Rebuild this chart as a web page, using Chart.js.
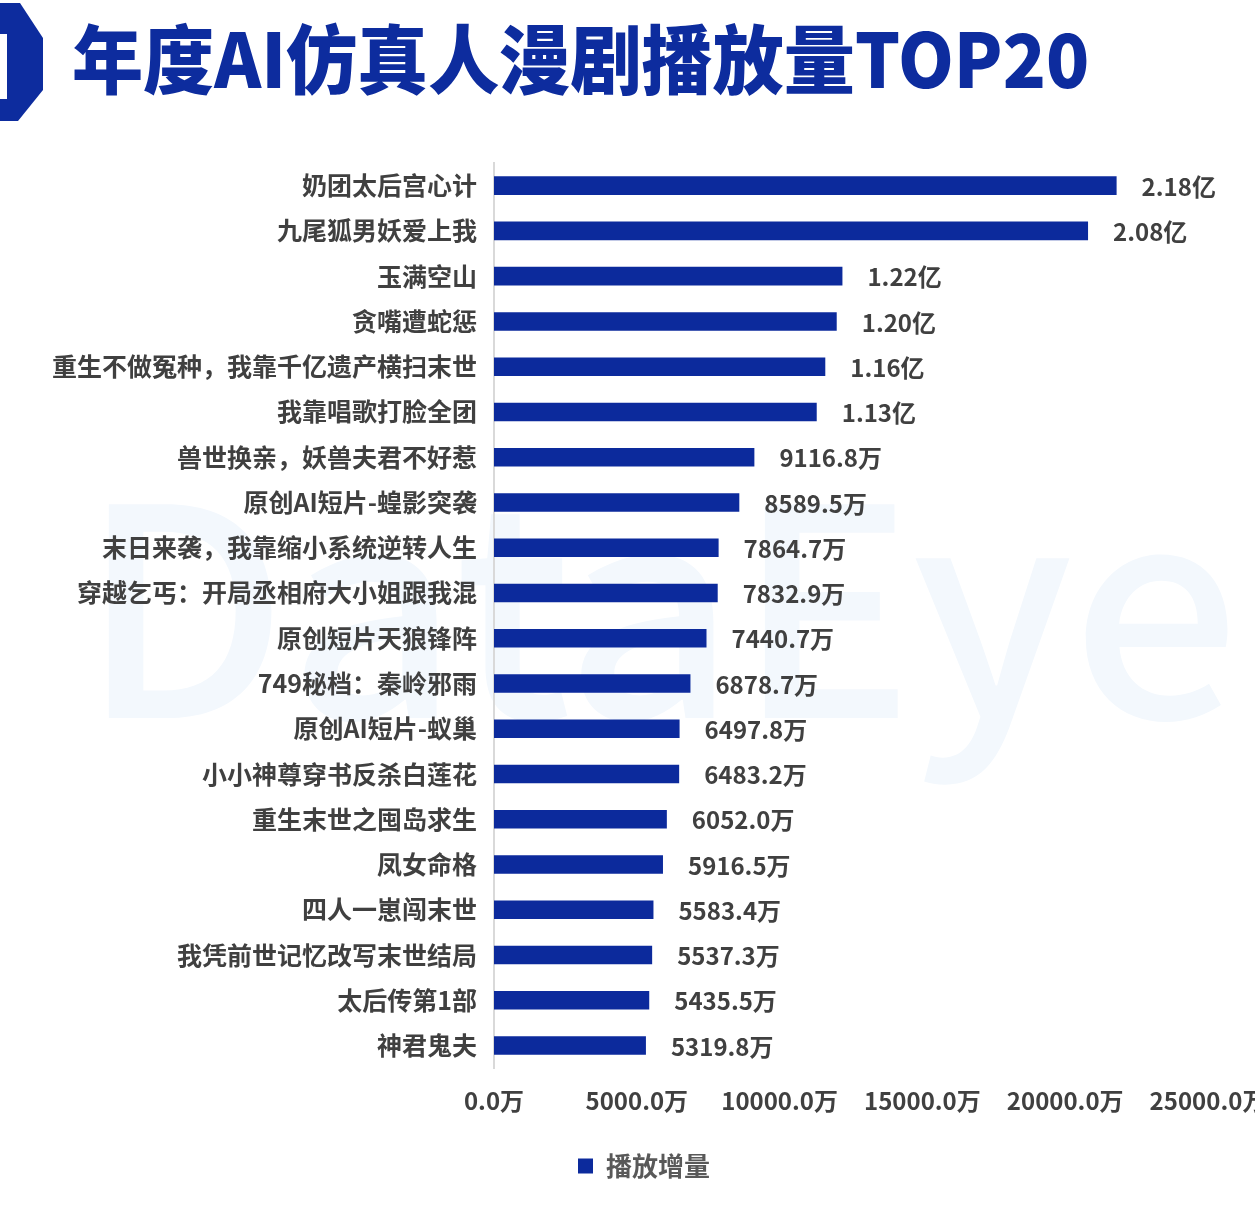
<!DOCTYPE html>
<html>
<head>
<meta charset="utf-8">
<script src="https://cdn.jsdelivr.net/npm/chart.js@4.4.1/dist/chart.umd.min.js"></script>
<style>
  html, body { margin: 0; padding: 0; background: #fff; overflow: hidden; }
  #wrap { position: relative; width: 1255px; height: 1208px; }
  #badge { position: absolute; left: 0; top: 0; }
  #title {
    position: absolute; left: 72px; top: 14px;
    font-family: "Noto Sans CJK SC", sans-serif; font-weight: 900;
    font-size: 75px; line-height: 84px; color: #0d2c9e; white-space: nowrap;
    transform: scaleX(0.948); transform-origin: 0 0;
  }
  #chartBox { position: absolute; left: 0; top: 0; width: 1255px; height: 1208px; }
</style>
</head>
<body>
<div id="wrap">
  <div id="chartBox"><canvas id="myChart"></canvas></div>
  <svg id="badge" width="50" height="125">
    <polygon points="0,3 20,3 43,38 43,90 18,121 0,121" fill="#0d2c9e"></polygon>
    <rect x="0" y="34" width="7" height="65" fill="#fff"></rect>
  </svg>
  <div id="title">年度AI仿真人漫剧播放量TOP20</div>
</div>
<script>
const dramaNames = [
  "奶团太后宫心计", "九尾狐男妖爱上我", "玉满空山", "贪嘴遭蛇惩",
  "重生不做冤种，我靠千亿遗产横扫末世", "我靠唱歌打脸全团", "兽世换亲，妖兽夫君不好惹",
  "原创AI短片-蝗影突袭", "末日来袭，我靠缩小系统逆转人生", "穿越乞丐：开局丞相府大小姐跟我混",
  "原创短片天狼锋阵", "749秘档：秦岭邪雨", "原创AI短片-蚁巢", "小小神尊穿书反杀白莲花",
  "重生末世之囤岛求生", "凤女命格", "四人一崽闯末世", "我凭前世记忆改写末世结局",
  "太后传第1部", "神君鬼夫"
];
// 播放增量，单位：万
const playCounts = [
  21800, 20800, 12200, 12000, 11600, 11300, 9116.8, 8589.5, 7864.7, 7832.9,
  7440.7, 6878.7, 6497.8, 6483.2, 6052.0, 5916.5, 5583.4, 5537.3, 5435.5, 5319.8
];
const xTicks = [0, 5000, 10000, 15000, 20000, 25000];
const seriesName = "播放增量";

const barColor = "#0c2a9c";
const textColor = "#404040";
const fontFamily = '"Noto Sans CJK SC", "Noto Sans", sans-serif';

function formatValue(v) {
  if (v >= 10000) {
    return (v / 10000).toFixed(2) + "亿";
  }
  return v.toFixed(1) + "万";
}

// faint watermark behind the chart
const watermark = {
  id: "watermark",
  beforeDraw(chart) {
    const ctx = chart.ctx;
    ctx.save();
    ctx.font = "500 290px " + fontFamily;
    const w = ctx.measureText("DataEye").width;
    const scale = 1160 / w;
    ctx.translate(80, 718);
    ctx.scale(scale, 1);
    ctx.fillStyle = "#f3f8fd";
    ctx.textBaseline = "alphabetic";
    ctx.fillText("DataEye", 0, 0);
    ctx.restore();
  },
};

// legend sits a bit right of the canvas centre in the original
const legendShift = {
  id: "legendShift",
  afterLayout(chart) {
    if (chart.legend) {
      chart.legend.left += 80;
    }
  },
};

// value text after each bar
const valueLabels = {
  id: "valueLabels",
  afterDatasetsDraw(chart) {
    const ctx = chart.ctx;
    const meta = chart.getDatasetMeta(0);
    ctx.save();
    ctx.font = "bold 24px " + fontFamily;
    ctx.fillStyle = textColor;
    ctx.textAlign = "left";
    ctx.textBaseline = "middle";
    meta.data.forEach((bar, i) => {
      ctx.fillText(formatValue(playCounts[i]), bar.x + 25, bar.y + 1);
    });
    ctx.restore();
  },
};

const ctx = document.getElementById("myChart");
new Chart(ctx, {
  type: "bar",
  data: {
    labels: dramaNames,
    datasets: [
      {
        label: seriesName,
        data: playCounts,
        backgroundColor: barColor,
        borderWidth: 0,
        categoryPercentage: 1,
        barPercentage: 0.41,
      },
    ],
  },
  options: {
    indexAxis: "y",
    responsive: true,
    maintainAspectRatio: false,
    animation: false,
    layout: {
      padding: { top: 163, right: 47, left: 0, bottom: 19 },
    },
    scales: {
      x: {
        min: 0,
        max: 25000,
        afterBuildTicks: (scale) => {
          scale.ticks = xTicks.map((v) => ({ value: v }));
        },
        afterFit: (scale) => {
          scale.paddingLeft = 0;
          scale.paddingRight = 0;
        },
        grid: { display: false },
        border: { display: false },
        ticks: {
          padding: 10,
          color: textColor,
          font: { family: fontFamily, size: 24, weight: "bold" },
          callback: (v) => v.toFixed(1) + "万",
          maxRotation: 0,
        },
      },
      y: {
        afterFit: (scale) => {
          scale.width = 494;
        },
        grid: { display: false },
        border: { display: true, color: "#d9d9d9", width: 2 },
        ticks: {
          padding: 9,
          color: textColor,
          font: { family: fontFamily, size: 25, weight: "bold" },
        },
      },
    },
    plugins: {
      legend: {
        position: "bottom",
        labels: {
          boxWidth: 15,
          boxHeight: 15,
          padding: 28,
          color: "#595959",
          font: { family: fontFamily, size: 26, weight: "bold" },
        },
      },
      tooltip: { enabled: false },
    },
  },
  plugins: [watermark, legendShift, valueLabels],
});
</script>
</body>
</html>
